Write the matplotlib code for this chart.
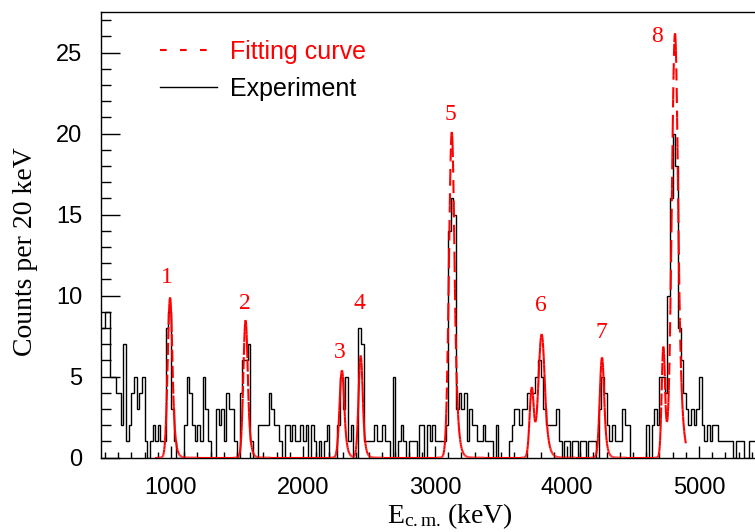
import matplotlib
matplotlib.use('Agg')
import matplotlib.pyplot as plt
import numpy as np
from matplotlib.collections import LineCollection
from matplotlib.lines import Line2D
from matplotlib.ticker import MultipleLocator

plt.rcParams['font.family'] = 'Liberation Sans'
plt.rcParams['mathtext.fontset'] = 'custom'
plt.rcParams['mathtext.rm'] = 'Liberation Serif'
plt.rcParams['mathtext.it'] = 'Liberation Serif:italic'

# experimental spectrum, 20 keV bins starting at 460 keV
bin_start = 460
bin_width = 20
counts = [8, 8, 9, 9, 5, 5, 4, 4, 2, 7,
          1, 2, 4, 5, 3, 4, 5, 1, 0, 1,
          2, 1, 2, 1, 1, 8, 9, 3, 1, 0,
          0, 0, 2, 5, 4, 2, 1, 2, 1, 5,
          3, 1, 0, 0, 3, 2, 3, 1, 4, 3,
          3, 1, 0, 4, 6, 6, 7, 1, 0, 0,
          2, 2, 2, 2, 4, 3, 2, 2, 1, 0,
          2, 2, 1, 2, 1, 1, 2, 1, 2, 0,
          2, 1, 0, 1, 0, 1, 2, 0, 0, 0,
          2, 5, 3, 5, 1, 2, 0, 0, 8, 7,
          1, 1, 1, 1, 2, 1, 1, 2, 1, 1,
          0, 5, 0, 1, 2, 1, 0, 1, 1, 1,
          0, 2, 2, 0, 2, 1, 2, 1, 1, 1,
          1, 2, 14, 16, 15, 3, 4, 3, 4, 1,
          3, 2, 2, 1, 1, 2, 1, 1, 1, 0,
          2, 0, 0, 0, 0, 1, 2, 3, 3, 2,
          3, 3, 4, 4, 4, 5, 6, 5, 3, 2,
          2, 2, 2, 3, 1, 0, 1, 1, 0, 1,
          1, 0, 1, 1, 0, 1, 1, 1, 0, 3,
          5, 4, 2, 1, 2, 1, 1, 1, 3, 2,
          2, 0, 0, 0, 0, 0, 0, 2, 0, 2,
          3, 2, 5, 5, 4, 10, 16, 20, 18, 8,
          6, 4, 3, 2, 3, 2, 3, 5, 2, 1,
          2, 1, 2, 2, 1, 1, 1, 1, 1, 1,
          0, 1, 1, 1, 0, 0, 1, 1, 1]

# fitted peaks (centroid keV, height, width keV)
fit_e = [993, 1565, 2295, 2437, 3127, 3733, 3808, 4265, 4730, 4818]
fit_h = [9.9, 8.5, 5.4, 6.3, 20.1, 4.3, 7.6, 6.2, 6.85, 26.2]
fit_sigma = [18, 17, 18, 16, 21, 16, 24, 17, 13, 24]
fit_lo, fit_hi = 880, 4900

# peak numbers
peak_names = ['1', '2', '3', '4', '5', '6', '7', '8']
label_e = [970, 1561, 2280, 2424, 3114, 3803, 4258, 4682]
label_y = [11.1, 9.5, 6.5, 9.5, 21.2, 9.4, 7.7, 26.0]


def peak(e, mu, h, s, k=1.2):
    t = (e - mu) / s
    return h * np.where(t <= k, np.exp(-t * t / 2), np.exp(k * k / 2 - k * t))


fig = plt.figure(figsize=(7.55, 5.32), dpi=100)
ax = fig.add_axes([100.5 / 755, 1 - 457.7 / 532, 654.5 / 755, 445.7 / 532])

edges = bin_start + bin_width * np.arange(len(counts) + 1)
ax.stairs(counts, edges, color='black', lw=1.0, zorder=2)

# fit drawn as short pieces, each dashed on its own (steep parts show gaps)
e = np.arange(fit_lo, fit_hi + 1, 3.0)
y = np.zeros_like(e)
for mu, h, s in zip(fit_e, fit_h, fit_sigma):
    y += peak(e, mu, h, s)
pts = np.column_stack([e, y])
segs = np.stack([pts[:-1], pts[1:]], axis=1)
ax.add_collection(LineCollection(segs, colors='red', linewidths=1.5,
                                 linestyles=[(0, (5.8, 3.6))], zorder=3))

for name, xe, ye in zip(peak_names, label_e, label_y):
    ax.text(xe, ye, name, color='red', fontsize=17, family='Liberation Serif',
            ha='center', va='center')

ax.set_xlim(466, 5424)
ax.set_ylim(0, 27.5)
ax.xaxis.set_major_locator(MultipleLocator(1000))
ax.xaxis.set_minor_locator(MultipleLocator(100))
ax.yaxis.set_major_locator(MultipleLocator(5))
ax.yaxis.set_minor_locator(MultipleLocator(1))
ax.tick_params(axis='both', which='both', direction='in', labelsize=17, width=1.0)
ax.tick_params(axis='y', which='major', length=14, pad=13)
ax.tick_params(axis='y', which='minor', length=7)
ax.tick_params(axis='x', which='major', length=9, pad=14)
ax.tick_params(axis='x', which='minor', length=4.5)
ax.spines['right'].set_visible(False)
for sp in ['left', 'top', 'bottom']:
    ax.spines[sp].set_linewidth(1.0)

ax.set_ylabel('Counts per 20 keV', fontsize=20, family='Liberation Serif')
ax.yaxis.set_label_coords(-0.096, 0.4615)
ax.set_xlabel(r'$\mathrm{E}_{\mathrm{c.m.}}\,$(keV)', fontsize=20, family='Liberation Serif')
ax.xaxis.set_label_coords(0.534, -0.097)

handles = [Line2D([], [], color='red', lw=1.5, dashes=(3.2, 6.4)),
           Line2D([], [], color='black', lw=1.0)]
leg = ax.legend(handles, ['Fitting curve', 'Experiment'], loc='upper left',
                bbox_to_anchor=(0.091, 0.938), frameon=False, fontsize=18,
                handlelength=2.28, handletextpad=0.52, labelspacing=0.53,
                borderpad=0, borderaxespad=0)
leg.get_texts()[0].set_color('red')

fig.savefig('out.png', dpi=100)
